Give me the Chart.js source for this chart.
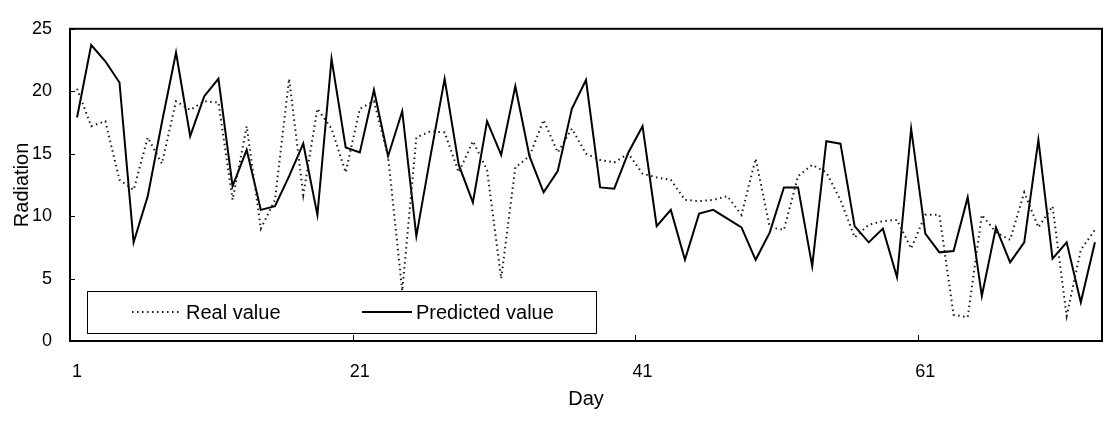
<!DOCTYPE html>
<html>
<head>
<meta charset="utf-8">
<title>Radiation: real vs predicted</title>
<script src="https://cdn.jsdelivr.net/npm/chart.js@4/dist/chart.umd.min.js"></script>
<style>
  html, body { margin: 0; padding: 0; background: #fff; }
  #wrap { width: 1111px; height: 421px; }
</style>
</head>
<body>
<div id="wrap"><canvas id="radiationChart" width="1111" height="421"></canvas></div>
<script>
// days 1..73 on the category axis
const days = Array.from({ length: 73 }, (_, i) => String(i + 1));
const shownDays = ["1", "21", "41", "61"];
const yTicks = [0, 5, 10, 15, 20, 25];

const realValue = [
  20.2, 17.2, 17.6, 12.9, 12.1, 16.3, 14.2, 19.2, 18.5, 19.2,
  19.1, 11.3, 17.2, 9.0, 11.3, 21.0, 11.7, 18.6, 17.0, 13.5,
  18.6, 19.2, 14.8, 4.0, 16.3, 16.8, 16.7, 13.5, 16.0, 13.7,
  5.0, 13.9, 14.8, 17.7, 15.1, 17.0, 15.0, 14.5, 14.3, 15.0,
  13.4, 13.1, 12.9, 11.3, 11.2, 11.3, 11.6, 10.1, 14.6, 9.1,
  8.9, 13.2, 14.1, 13.5, 11.3, 8.3, 9.3, 9.6, 9.7, 7.4,
  10.1, 10.1, 2.1, 1.9, 10.1, 8.7, 8.1, 11.9, 9.1, 10.8,
  2.0, 7.3, 8.9,
];

const predictedValue = [
  17.9, 23.7, 22.4, 20.7, 7.9, 11.6, 17.5, 23.1, 16.4, 19.6,
  21.0, 12.4, 15.3, 10.5, 10.8, 13.2, 15.8, 10.1, 22.6, 15.5,
  15.1, 20.1, 14.8, 18.4, 8.4, 14.8, 21.0, 14.1, 11.1, 17.6,
  14.9, 20.4, 14.8, 11.9, 13.6, 18.6, 20.9, 12.3, 12.2, 15.1,
  17.2, 9.2, 10.5, 6.5, 10.2, 10.5, 9.8, 9.1, 6.5, 8.7,
  12.3, 12.3, 6.0, 16.0, 15.8, 9.2, 7.9, 9.0, 5.1, 17.0,
  8.6, 7.1, 7.2, 11.5, 3.6, 9.1, 6.3, 7.9, 16.1, 6.6,
  7.9, 3.1, 7.9,
];

(() => {
  "use strict";

  const FONT = "'Liberation Sans', Arial, sans-serif";
  const INK = "#000";

  // frame round the plot area plus the short inward tick marks
  const framePlugin = {
    id: "frame",
    afterDraw(chart) {
      const { ctx, chartArea: a, scales } = chart;
      ctx.save();
      ctx.strokeStyle = INK;
      ctx.lineWidth = 1;
      yTicks.forEach((v) => {
        const y = Math.round(scales.y.getPixelForValue(v)) + 0.5;
        ctx.beginPath();
        ctx.moveTo(a.left, y);
        ctx.lineTo(a.left + 5, y);
        ctx.stroke();
      });
      shownDays.forEach((d) => {
        const i = days.indexOf(d);
        if (i <= 0) return;
        const x = Math.round((scales.x.getPixelForValue(i) + scales.x.getPixelForValue(i - 1)) / 2) + 0.5;
        ctx.beginPath();
        ctx.moveTo(x, a.bottom);
        ctx.lineTo(x, a.bottom - 6);
        ctx.stroke();
      });
      ctx.lineWidth = 2;
      ctx.strokeRect(a.left, a.top, a.right - a.left, a.bottom - a.top);
      ctx.restore();
    },
  };

  // boxed legend sitting in the lower left of the plot
  const boxLegend = {
    id: "boxLegend",
    afterDatasetsDraw(chart) {
      const { ctx } = chart;
      const box = { x: 87, y: 291, w: 509, h: 42 };
      const slots = [132, 362];
      const midY = box.y + box.h / 2;
      ctx.save();
      ctx.fillStyle = "#fff";
      ctx.fillRect(box.x, box.y, box.w, box.h);
      ctx.strokeStyle = INK;
      ctx.lineWidth = 1;
      ctx.strokeRect(box.x + 0.5, box.y + 0.5, box.w, box.h);
      chart.data.datasets.forEach((ds, i) => {
        const x0 = slots[i];
        ctx.beginPath();
        ctx.setLineDash(ds.borderDash || []);
        ctx.lineWidth = ds.borderWidth;
        ctx.strokeStyle = ds.borderColor;
        ctx.moveTo(x0, midY);
        ctx.lineTo(x0 + 50, midY);
        ctx.stroke();
        ctx.setLineDash([]);
        ctx.fillStyle = INK;
        ctx.font = "20px " + FONT;
        ctx.textBaseline = "middle";
        ctx.fillText(ds.label, x0 + 54, midY + 1);
      });
      ctx.restore();
    },
  };

  const canvas = document.getElementById("radiationChart");
  new Chart(canvas, {
    type: "line",
    data: {
      labels: days,
      datasets: [
        {
          label: "Real value",
          data: realValue,
          borderColor: "#1a1a1a",
          borderWidth: 2,
          borderDash: [1.5, 3.5],
          pointRadius: 0,
          tension: 0,
        },
        {
          label: "Predicted value",
          data: predictedValue,
          borderColor: "#000",
          borderWidth: 2,
          pointRadius: 0,
          tension: 0,
        },
      ],
    },
    options: {
      responsive: false,
      animation: false,
      layout: { padding: { top: 12, right: 9, bottom: 0, left: 0 } },
      plugins: {
        legend: { display: false },
        tooltip: { enabled: false },
      },
      scales: {
        x: {
          type: "category",
          offset: true,
          grid: { display: false, drawTicks: false },
          border: { display: false },
          afterFit: (s) => { s.height = 80; },
          ticks: {
            autoSkip: false,
            maxRotation: 0,
            padding: 20,
            color: INK,
            font: { family: FONT, size: 18 },
            callback(value, index) {
              const d = days[index];
              return shownDays.includes(d) ? d : null;
            },
          },
          title: {
            display: true,
            text: "Day",
            color: INK,
            font: { family: FONT, size: 20 },
            padding: { top: 0, bottom: 10 },
          },
        },
        y: {
          min: 0,
          max: 25,
          grid: { display: false, drawTicks: false },
          border: { display: false },
          afterFit: (s) => { s.width = 70; },
          ticks: {
            stepSize: 5,
            padding: 18,
            color: INK,
            font: { family: FONT, size: 18 },
          },
          title: {
            display: true,
            text: "Radiation",
            color: INK,
            font: { family: FONT, size: 20 },
            padding: { top: 10, bottom: 0 },
          },
        },
      },
    },
    plugins: [framePlugin, boxLegend],
  });
})();
</script>
</body>
</html>
